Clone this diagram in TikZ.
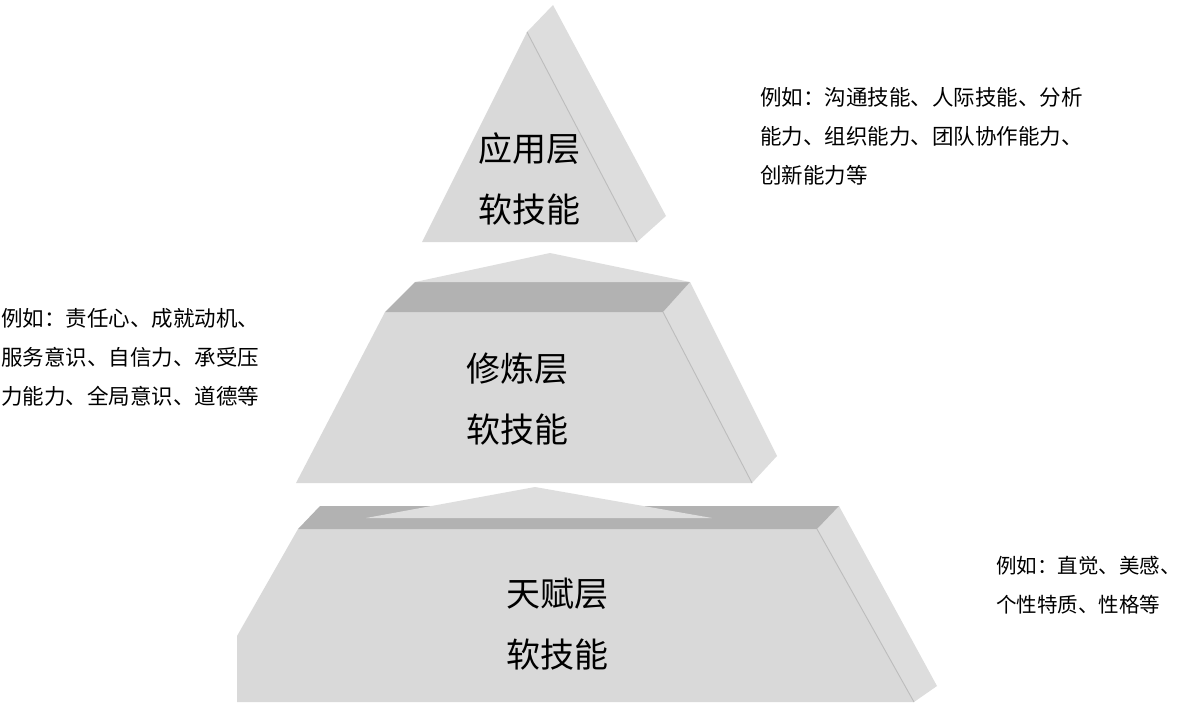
\documentclass[tikz,border=0pt]{standalone}
\usepackage{fontspec}
\newfontfamily\cjk{Noto Sans CJK SC}
\definecolor{FrontGray}{RGB}{217,217,217}
\definecolor{SideGray}{RGB}{221,221,221}
\definecolor{BandGray}{RGB}{178,178,178}
\definecolor{RidgeGray}{RGB}{222,222,222}
\definecolor{EdgeGray}{RGB}{188,188,188}
\tikzset{
  frontface/.style={fill=FrontGray},
  sideface/.style={fill=SideGray},
  bandface/.style={fill=BandGray},
  ridgeface/.style={fill=RidgeGray},
  faceedge/.style={draw=EdgeGray,line width=0.9pt},
  tiername/.style={inner sep=0pt,align=center,font=\cjk\fontsize{34}{61}\selectfont},
  examplenote/.style={inner sep=0pt,align=left,anchor=west,font=\cjk\fontsize{21.5}{39}\selectfont}
}
\begin{document}
\begin{tikzpicture}[x=1pt,y=-1pt]
\useasboundingbox (0,0) rectangle (1184,710);

% top tier
\fill[sideface] (527,32) -- (553,5) -- (666,216) -- (637,242) -- cycle;
\fill[frontface] (422,242) -- (527,32) -- (637,242) -- cycle;
\draw[faceedge] (527,32) -- (637,242);
\node[tiername] (topname) at (529,179) {应用层\\软技能};

% middle tier
\fill[sideface] (663,312) -- (690,282) -- (777,456) -- (752,483) -- cycle;
\fill[frontface] (385,312) -- (663,312) -- (752,483) -- (296,483) -- cycle;
\fill[bandface] (415,282) -- (690,282) -- (663,312) -- (385,312) -- cycle;
\fill[ridgeface] (415,282) -- (550,253) -- (690,282) -- cycle;
\draw[faceedge] (663,312) -- (752,483);
\node[tiername] (midname) at (517,399) {修炼层\\软技能};

% bottom tier
\fill[sideface] (817,529) -- (839,506) -- (937,686) -- (914,702) -- cycle;
\fill[frontface] (298,529) -- (817,529) -- (914,702) -- (237,702) -- (237,636) -- cycle;
\fill[bandface] (320,506) -- (839,506) -- (817,529) -- (298,529) -- cycle;
\fill[ridgeface] (366,518) -- (535,487) -- (712,518) -- cycle;
\draw[faceedge] (817,529) -- (914,702);
\node[tiername] (lowname) at (557,624) {天赋层\\软技能};

% notes
\node[examplenote] (topnote) at (760,136) {例如：沟通技能、人际技能、分析\\能力、组织能力、团队协作能力、\\创新能力等};
\node[examplenote] (midnote) at (1,357) {例如：责任心、成就动机、\\服务意识、自信力、承受压\\力能力、全局意识、道德等};
\node[examplenote, font=\cjk\fontsize{20.5}{39}\selectfont] (lownote) at (996,585) {例如：直觉、美感、\\个性特质、性格等};
\end{tikzpicture}
\end{document}
